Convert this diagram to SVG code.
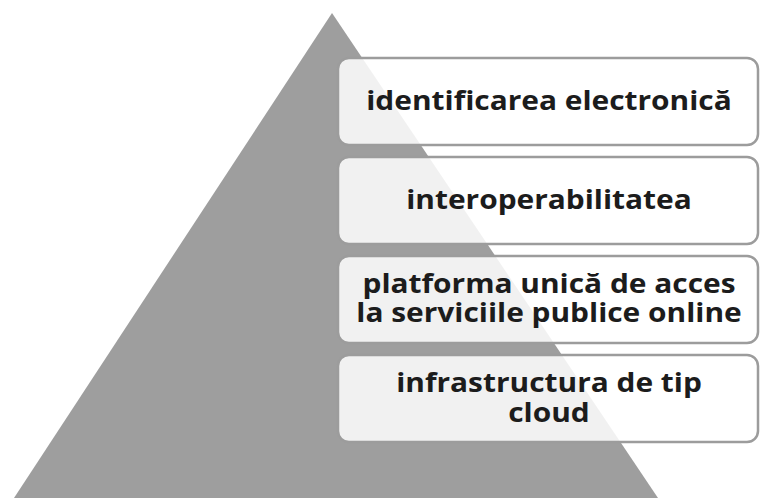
<svg xmlns="http://www.w3.org/2000/svg" width="760" height="498" viewBox="0 0 760 498">
  <defs>
    <style>
      .box { fill: #ffffff; fill-opacity: 0.86; stroke: #9c9c9c; stroke-width: 2.5; }
      .lbl { font-family: "Open Sans", "Noto Sans", "DejaVu Sans", sans-serif; font-weight: bold; font-size: 26px; fill: #1c1c1c; text-anchor: middle; }
    </style>
  </defs>
  <rect width="760" height="498" fill="#ffffff"/>
  <g id="pyramid">
    <polygon points="332,13 14,498 658,498" fill="#9e9e9e"/>
  </g>
  <g id="node1">
    <rect class="box" x="338" y="58" width="420" height="87" rx="11"/>
    <text class="lbl" transform="translate(549 110) scale(1.15 1)">identificarea electronică</text>
  </g>
  <g id="node2">
    <rect class="box" x="338" y="157" width="420" height="87" rx="11"/>
    <text class="lbl" transform="translate(549 209) scale(1.15 1)">interoperabilitatea</text>
  </g>
  <g id="node3">
    <rect class="box" x="338" y="256" width="420" height="87" rx="11"/>
    <text class="lbl" transform="translate(549 293) scale(1.15 1)">platforma unică de acces</text>
    <text class="lbl" transform="translate(549 322) scale(1.15 1)">la serviciile publice online</text>
  </g>
  <g id="node4">
    <rect class="box" x="338" y="355" width="420" height="87" rx="11"/>
    <text class="lbl" transform="translate(549 392) scale(1.15 1)">infrastructura de tip</text>
    <text class="lbl" transform="translate(549 422) scale(1.15 1)">cloud</text>
  </g>
  <g id="connectors"/>
</svg>
